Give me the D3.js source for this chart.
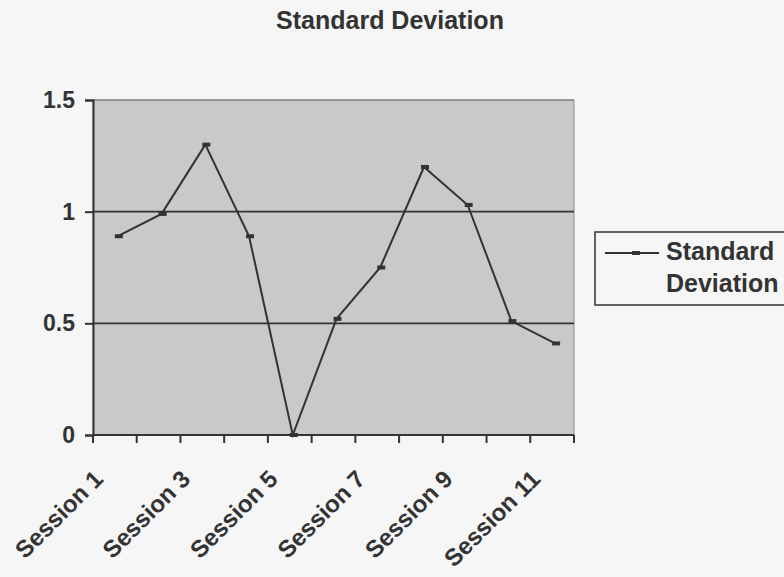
<!DOCTYPE html>
<html>
<head>
<meta charset="utf-8">
<script src="https://cdn.jsdelivr.net/npm/d3@7"></script>
<style>
  html, body { margin: 0; padding: 0; background: #f6f6f6; }
  svg { display: block; font-family: Arial, "Liberation Sans", sans-serif; }
</style>
</head>
<body>
<svg id="chart" width="784" height="577"></svg>
<script>
// Session categories and their standard deviation values
const sessions = ["Session 1", "Session 2", "Session 3", "Session 4", "Session 5", "Session 6",
                  "Session 7", "Session 8", "Session 9", "Session 10", "Session 11"];
const stdDev = [0.89, 0.99, 1.30, 0.89, 0.00, 0.52, 0.75, 1.20, 1.03, 0.51, 0.41];
const yTicks = [0, 0.5, 1, 1.5];
const xLabelSessions = ["Session 1", "Session 3", "Session 5", "Session 7", "Session 9", "Session 11"];
const seriesName = "Standard Deviation";

const svg = d3.select("#chart");
const ink = "#333";

const plot = { left: 93, right: 574, top: 100, bottom: 435 };

const x = d3.scaleBand().domain(sessions).range([plot.left, plot.right]);
const y = d3.scaleLinear().domain([0, 1.5]).range([plot.bottom, plot.top]);
const cx = s => x(s) + x.bandwidth() / 2 + 3;

// Plot area
svg.append("rect")
  .attr("x", plot.left).attr("y", plot.top)
  .attr("width", plot.right - plot.left).attr("height", plot.bottom - plot.top)
  .attr("fill", "#c9c9c9")
  .attr("stroke", "#8a8a8a").attr("stroke-width", 1);

// Horizontal gridlines
svg.append("g")
  .selectAll("line")
  .data(yTicks.filter(d => d > 0))
  .join("line")
  .attr("x1", plot.left).attr("x2", plot.right)
  .attr("y1", d => y(d)).attr("y2", d => y(d))
  .attr("stroke", d => d === 1.5 ? "#777" : ink)
  .attr("stroke-width", d => d === 1.5 ? 1 : 1.8);

// Y axis
const yAxis = svg.append("g")
  .attr("transform", `translate(${plot.left},0)`)
  .call(d3.axisLeft(y).tickValues(yTicks).tickSize(8).tickPadding(10)
    .tickFormat(d => d3.format("")(d)));
yAxis.select(".domain").attr("stroke", ink).attr("stroke-width", 2);
yAxis.selectAll(".tick line").attr("stroke", ink).attr("stroke-width", 2);
yAxis.selectAll(".tick text")
  .attr("fill", ink).style("font-size", "23px").style("font-weight", "bold");

// X axis: ticks sit between categories
const xAxis = svg.append("g")
  .attr("transform", `translate(0,${plot.bottom})`);
xAxis.append("line")
  .attr("x1", plot.left).attr("x2", plot.right)
  .attr("stroke", ink).attr("stroke-width", 2);
const boundaries = sessions.map(s => x(s)).concat([x(sessions[sessions.length - 1]) + x.bandwidth()]);
xAxis.selectAll("line.tick")
  .data(boundaries)
  .join("line")
  .attr("class", "tick")
  .attr("x1", d => d).attr("x2", d => d)
  .attr("y1", 0).attr("y2", 8)
  .attr("stroke", ink).attr("stroke-width", 2);

// Rotated category labels (every other session)
xAxis.selectAll("text")
  .data(xLabelSessions)
  .join("text")
  .attr("transform", d => `translate(${x(d) + x.bandwidth() / 2 - 10.5},${45.5}) rotate(-45)`)
  .attr("text-anchor", "end")
  .attr("fill", ink)
  .style("font-size", "24px")
  .style("font-weight", "bold")
  .text(d => d);

// Series line
const line = d3.line()
  .x((d, i) => cx(sessions[i]))
  .y(d => y(d));
svg.append("path")
  .datum(stdDev)
  .attr("d", line)
  .attr("fill", "none")
  .attr("stroke", ink)
  .attr("stroke-width", 2);

// Dash-shaped markers
svg.append("g")
  .selectAll("rect")
  .data(stdDev)
  .join("rect")
  .attr("x", (d, i) => cx(sessions[i]) - 3)
  .attr("y", d => y(d) - 2)
  .attr("width", 8).attr("height", 4)
  .attr("fill", ink);

// Title
svg.append("text")
  .attr("x", 390).attr("y", 29)
  .attr("text-anchor", "middle")
  .attr("fill", ink)
  .style("font-size", "25px")
  .style("font-weight", "bold")
  .text(seriesName);

// Legend
const legend = svg.append("g");
legend.append("rect")
  .attr("x", 595).attr("y", 232)
  .attr("width", 200).attr("height", 73)
  .attr("fill", "none")
  .attr("stroke", ink).attr("stroke-width", 1.5);
legend.append("line")
  .attr("x1", 605).attr("x2", 659)
  .attr("y1", 253).attr("y2", 253)
  .attr("stroke", ink).attr("stroke-width", 2);
legend.append("rect")
  .attr("x", 632).attr("y", 251).attr("width", 8).attr("height", 4)
  .attr("fill", ink);
const legendText = legend.append("text")
  .attr("fill", ink)
  .style("font-size", "25px")
  .style("font-weight", "bold");
legendText.append("tspan").attr("x", 666).attr("y", 260).text("Standard");
legendText.append("tspan").attr("x", 666).attr("y", 292).text("Deviation");
</script>
</body>
</html>
